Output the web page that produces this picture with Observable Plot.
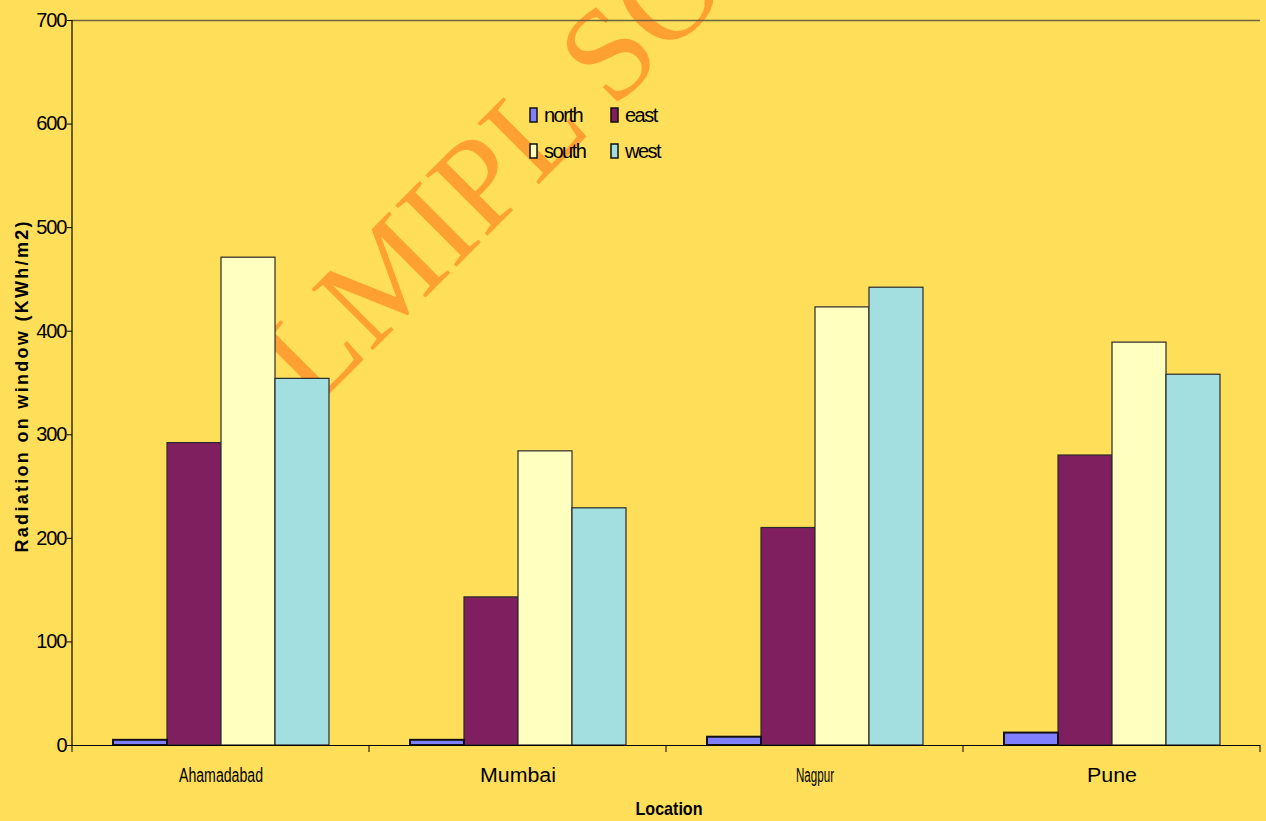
<!DOCTYPE html>
<html><head><meta charset="utf-8">
<script src="https://cdn.jsdelivr.net/npm/d3@7"></script>
<script src="https://cdn.jsdelivr.net/npm/@observablehq/plot@0.6"></script>
<style>
body{margin:0;background:#FFDF5A;}
#chart svg{display:block;}
</style>
</head><body><div id="chart"></div>
<script>
// ---- data ----
const locations = ["Ahamadabad", "Mumbai", "Nagpur", "Pune"];
const directions = ["north", "east", "south", "west"];
const north = [5, 5, 8, 12];
const east = [292, 143, 210, 280];
const south = [471, 284, 423, 389];
const west = [354, 229, 442, 358];
const yTicks = [0, 100, 200, 300, 400, 500, 600, 700];
const yLabel = "Radiation on window (KWh/m2)";
const xLabel = "Location";
const watermark = "LMIPL SO";

// ---- styles ----
const colors = ["#8080FF", "#7F1F5F", "#FFFFC0", "#A3DFE0"];
const bg = "#FFDF5A";
const font = "'Liberation Sans', Arial, sans-serif";
const labelWidths = {Ahamadabad: 84, Mumbai: 76, Nagpur: 38, Pune: 50};

const series = {north, east, south, west};
const data = locations.flatMap((loc, i) =>
  directions.map(dir => ({location: loc, direction: dir, value: series[dir][i]})));

const plot = Plot.plot({
  width: 1266, height: 821,
  marginLeft: 72, marginRight: 6, marginTop: 20, marginBottom: 76,
  style: {background: bg, fontFamily: font, fontSize: "20px", color: "#000"},
  fx: {domain: locations, padding: 0, label: null},
  x: {domain: directions, paddingInner: 0, paddingOuter: 0.75, axis: null},
  y: {domain: [0, 700], label: null},
  color: {domain: directions, range: colors},
  marks: [
    Plot.ruleY([700], {stroke: "#6e6440", strokeWidth: 1.5}),
    Plot.barY(data.filter(d => d.direction !== "north"),
      {fx: "location", x: "direction", y: "value", fill: "direction", stroke: "#2a2a2a", strokeWidth: 1.2, inset: 0}),
    Plot.barY(data.filter(d => d.direction === "north"),
      {fx: "location", x: "direction", y: "value", fill: "direction", stroke: "#111", strokeWidth: 2, inset: 0}),
    Plot.ruleY([0], {stroke: "#000", strokeWidth: 1.2}),
    Plot.axisY({ticks: yTicks, tickSize: 5, tickPadding: 1, label: null, fontSize: 20, stroke: "#000"}),
    Plot.axisFx({anchor: "bottom", tickSize: 0, tickPadding: 22, label: null, fontSize: 20})
  ]
});

const svg = d3.select(plot);
const fx = plot.scale("fx");
const y = plot.scale("y");
const col = plot.scale("color");
const y0 = y.apply(0), yTop = y.apply(700);
const left = fx.apply(locations[0]);
const bw = fx.bandwidth;

// watermark behind everything
svg.insert("text", "g")
  .attr("transform", "translate(313,410) rotate(-45)")
  .attr("text-anchor", "start")
  .attr("font-family", "'Liberation Serif', 'Times New Roman', serif")
  .attr("font-size", 132)
  .attr("fill", "#FFA032")
  .attr("xml:space", "preserve")
  .style("white-space", "pre")
  .text(watermark);

// y axis line
svg.append("line").attr("x1", left).attr("x2", left).attr("y1", yTop).attr("y2", y0)
  .attr("stroke", "#000").attr("stroke-width", 1.2);
// category boundary ticks
const bounds = locations.map(l => fx.apply(l)).concat([fx.apply(locations[locations.length - 1]) + bw]);
svg.append("g").selectAll("line").data(bounds).join("line")
  .attr("x1", d => d).attr("x2", d => d).attr("y1", y0).attr("y2", y0 + 7)
  .attr("stroke", "#000").attr("stroke-width", 1);

// compress category labels like the original
svg.selectAll("g[aria-label='fx-axis tick label'] text").each(function() {
  const t = d3.select(this).text();
  if (labelWidths[t]) d3.select(this).attr("textLength", labelWidths[t]).attr("lengthAdjust", "spacingAndGlyphs");
});
svg.selectAll("g[aria-label='y-axis tick label'] text").attr("letter-spacing", "-1px");

// axis titles
svg.append("text").attr("transform", `translate(28,387) rotate(-90)`)
  .attr("text-anchor", "middle").attr("font-family", font).attr("font-weight", "bold")
  .attr("font-size", 18).attr("fill", "#000")
  .attr("textLength", 331).attr("lengthAdjust", "spacing").text(yLabel);
svg.append("text").attr("x", 669).attr("y", 815)
  .attr("text-anchor", "middle").attr("font-family", font).attr("font-weight", "bold")
  .attr("font-size", 19).attr("fill", "#000")
  .attr("textLength", 67).attr("lengthAdjust", "spacingAndGlyphs").text(xLabel);

// legend
const lg = svg.append("g").attr("font-family", font).attr("font-size", 20).attr("fill", "#000")
  .attr("text-anchor", "start");
directions.forEach((d, i) => {
  const cx = 530 + (i % 2) * 81, cy = 108 + Math.floor(i / 2) * 36;
  lg.append("rect").attr("x", cx).attr("y", cy).attr("width", 7).attr("height", 14)
    .attr("fill", col.apply(d)).attr("stroke", "#111").attr("stroke-width", 1.5);
  lg.append("text").attr("x", cx + 14).attr("y", cy + 13.5).attr("text-anchor", "start")
    .attr("letter-spacing", "-1.5px").text(d);
});

document.getElementById("chart").appendChild(plot);
</script>
</body></html>
